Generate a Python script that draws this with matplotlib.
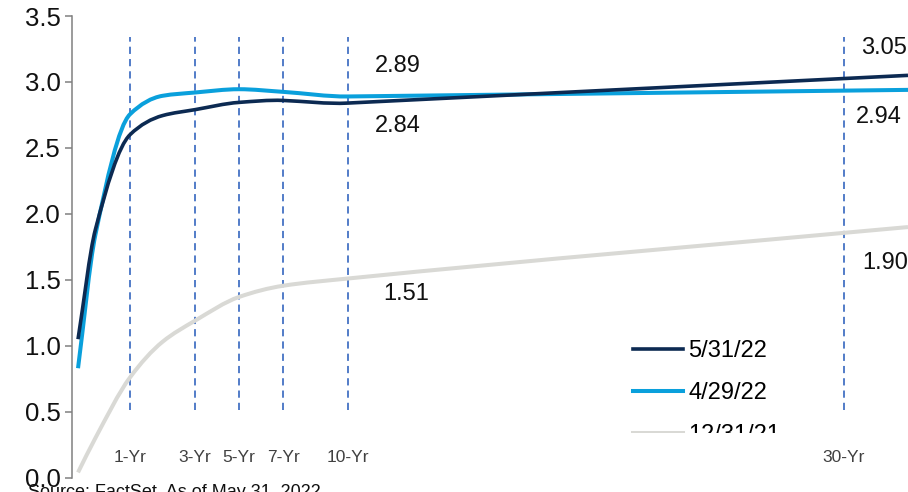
import numpy as np
import matplotlib
matplotlib.use('Agg')
import matplotlib.pyplot as plt
from matplotlib.path import Path
from matplotlib.patches import PathPatch, Rectangle
from matplotlib.lines import Line2D

plt.rcParams['font.family'] = ['Liberation Sans', 'DejaVu Sans']

# Treasury curve, maturity in years
tenors = [0.25, 0.5, 1, 2, 3, 5, 7, 10, 30]
yld_may22 = [1.05, 1.88, 2.60, 2.745, 2.79, 2.845, 2.86, 2.84, 3.05]
yld_apr22 = [0.83, 1.84, 2.755, 2.895, 2.92, 2.945, 2.925, 2.89, 2.94]
yld_dec21 = [0.04, 0.30, 0.76, 1.03, 1.19, 1.37, 1.455, 1.51, 1.90]

series_labels = ['5/31/22', '4/29/22', '12/31/21']
series_colors = ['#0c2a52', '#0aa0dc', '#d9d9d5']
series_widths = [2.6, 2.9, 2.9]

marker_labels = ['1-Yr', '3-Yr', '5-Yr', '7-Yr', '10-Yr', '30-Yr']
marker_at = [1, 3, 5, 7, 10, 27.7]

# piecewise-linear maturity axis (years -> layout units)
knots_yr = np.array([0, 1, 3, 5, 7, 10, 30], dtype=float)
knots_pos = np.array([60.7, 130, 195, 239, 283, 348, 908], dtype=float)


def fwd(x):
    return np.interp(x, knots_yr, knots_pos)


def inv(p):
    return np.interp(p, knots_pos, knots_yr)


def smooth_path(xs, ys):
    # cubic through the points, written as bezier segments in axis units
    p = fwd(np.asarray(xs, dtype=float))
    y = np.asarray(ys, dtype=float)
    n = len(p)
    h = np.diff(p)
    sec = np.diff(y) / h
    m = np.zeros(n)
    m[0], m[-1] = sec[0], sec[-1]
    for i in range(1, n - 1):
        if sec[i - 1] * sec[i] > 0:
            m[i] = 2 / (1 / sec[i - 1] + 1 / sec[i])
        elif abs(h[i] - h[i - 1]) > 0.1 * max(h[i], h[i - 1]):
            # turning point: follow the longer neighbouring segment
            m[i] = sec[i] if h[i] > h[i - 1] else sec[i - 1]
    verts = [(p[0], y[0])]
    codes = [Path.MOVETO]
    for i in range(n - 1):
        d = h[i] / 3
        verts += [(p[i] + d, y[i] + m[i] * d),
                  (p[i + 1] - d, y[i + 1] - m[i + 1] * d),
                  (p[i + 1], y[i + 1])]
        codes += [Path.CURVE4] * 3
    verts = np.array(verts)
    verts[:, 0] = inv(verts[:, 0])
    return Path(verts, codes)


fig = plt.figure(figsize=(9.08, 4.92), dpi=100)
W, H = 908, 492
ax = fig.add_axes([72 / W, (H - 477.7) / H, 1 - 72 / W, (477.7 - 16) / H])
ax.set_xscale('function', functions=(fwd, inv))
ax.set_xlim(inv(72), 30)
ax.set_ylim(0, 3.5)

# dashed maturity guides and their labels
ax.vlines(marker_at, 0.51, 3.34, colors='#4472c4', linestyles=(0, (4, 2.8)), lw=1.3, zorder=1)
for x, lab in zip(marker_at, marker_labels):
    ax.text(x, 0.15, lab, ha='center', va='center', fontsize=12.5, color='#404040')

all_yields = [yld_may22, yld_apr22, yld_dec21]
for ys, col, lw, z in zip(all_yields, series_colors, series_widths, [4, 3, 2]):
    ax.add_patch(PathPatch(smooth_path(tenors, ys), facecolor='none', edgecolor=col,
                           lw=lw, capstyle='butt', zorder=z))

# end-point value labels
value_labels = [
    (10, yld_apr22[7], (27, 30), 'left'),
    (10, yld_may22[7], (27, -23), 'left'),
    (10, yld_dec21[7], (35, -15), 'left'),
    (30, yld_may22[-1], (-1, 27), 'right'),
    (30, yld_apr22[-1], (-6, -27), 'right'),
    (30, yld_dec21[-1], (0, -36), 'right'),
]
for x, v, off, ha in value_labels:
    ax.annotate(f'{v:.2f}', xy=(x, v), xytext=off, textcoords='offset pixels',
                ha=ha, va='center', fontsize=17, color='#111111')

ax.set_yticks(np.arange(0, 3.51, 0.5))
ax.yaxis.set_major_formatter(plt.FormatStrFormatter('%.1f'))
ax.tick_params(axis='y', direction='out', length=5, width=1.1, color='#808080',
               labelsize=18.5, pad=3, labelcolor='#111111')
ax.set_xticks([])
ax.minorticks_off()
for s in ['top', 'right', 'bottom']:
    ax.spines[s].set_visible(False)
ax.spines['left'].set_color('#808080')
ax.spines['left'].set_linewidth(1.1)

handles = [Line2D([], [], color=c, lw=w) for c, w in zip(series_colors, series_widths)]
leg = ax.legend(handles, series_labels, loc='upper left', bbox_to_anchor=(0.671, 0.298),
                frameon=False, fontsize=17, handlelength=2.1, handletextpad=0.25,
                labelspacing=0.85, borderpad=0, borderaxespad=0)

# the bottom legend row is cut off by the chart area
fig.patches.append(Rectangle((620 / W, (H - 447) / H), 190 / W, 14 / H, transform=fig.transFigure,
                             facecolor='white', edgecolor='none', zorder=10))

fig.text(28 / W, (H - 484) / H, 'Source: FactSet, As of May 31, 2022', ha='left', va='top',
         fontsize=13, color='#111111')

fig.savefig('out.png', dpi=100)
